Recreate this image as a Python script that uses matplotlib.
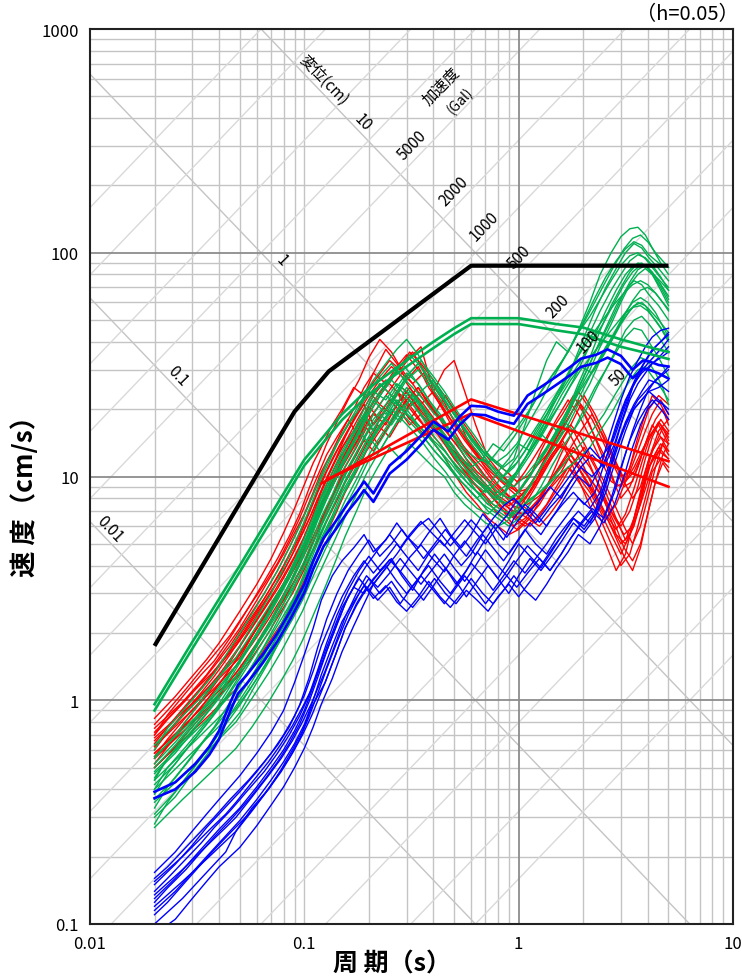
import numpy as np
import matplotlib
matplotlib.use("Agg")
import matplotlib.pyplot as plt

plt.rcParams['font.family'] = ['Noto Sans CJK JP', 'DejaVu Sans']

# ---------------------------------------------------------------- period grids (s)
TA = [0.02, 0.025, 0.03, 0.035, 0.04, 0.05, 0.06, 0.07, 0.08, 0.09,
      0.1, 0.11, 0.12, 0.135, 0.15, 0.17, 0.19, 0.21, 0.24, 0.27,
      0.3, 0.34, 0.38, 0.43, 0.48, 0.54, 0.6, 0.68, 0.76, 0.85,
      0.95, 1.07, 1.2, 1.35, 1.5, 1.7, 1.9, 2.15, 2.4, 2.7,
      3.0, 3.3, 3.6, 3.9, 4.2, 4.6, 5.0]
TB = [0.02, 0.023, 0.028, 0.033, 0.038, 0.045, 0.055, 0.065, 0.075, 0.085,
      0.095, 0.105, 0.115, 0.127, 0.142, 0.16, 0.18, 0.2, 0.225, 0.255,
      0.285, 0.32, 0.36, 0.405, 0.455, 0.51, 0.57, 0.64, 0.72, 0.8,
      0.9, 1.0, 1.13, 1.27, 1.42, 1.6, 1.8, 2.02, 2.27, 2.55,
      2.85, 3.15, 3.45, 3.75, 4.05, 4.5, 5.0]
TC = [0.02, 0.027, 0.032, 0.037, 0.043, 0.048, 0.057, 0.068, 0.078, 0.088,
      0.098, 0.108, 0.125, 0.14, 0.155, 0.175, 0.195, 0.22, 0.25, 0.28,
      0.31, 0.35, 0.4, 0.45, 0.5, 0.56, 0.63, 0.7, 0.78, 0.88,
      0.98, 1.1, 1.25, 1.4, 1.58, 1.75, 1.95, 2.2, 2.5, 2.8,
      3.1, 3.4, 3.7, 4.0, 4.35, 4.7, 5.0]

# ---------------------------------------------------------------- red spectra (cm/s)
red_1 = [0.83,1.04,1.28,1.52,1.8, 2.5,3.3,4.3,5.6,7.2, 9.2,11.5,13.5,17,20, 25,23,29,37,32, 27,31,25,21,18, 16,13.5,12,10.5,9.5, 9,10.5,12.5,15,18, 22,19,15,12,9.5, 9,11,15,19,23, 21,18]
red_2 = [0.78,0.9,1.12,1.36,1.6, 1.95,2.6,3.4,4.3,5.4, 6.8,8.8,11,14,17.5, 22,27,34,41,36, 30,26,29,23,19, 15.5,13,11,9.5,8.2, 7.6,7.2,8.5,10.5,12.5, 14.5,12,9.8,8,6.5, 7.5,9.5,12.5,16,20, 23,21]
red_3 = [0.75,0.98,1.15,1.32,1.55, 1.75,2.2,2.9,3.6,4.5, 5.6,6.8,9.5,12,15, 19,24,28,33,30, 34,38,24,30,33, 24,17,13,11.5,10.5, 9.5,10,11.5,13,15.5, 17,21,18,14,11, 9,9.5,12,15,18, 20,17]
red_4 = [0.72,0.9,1.1,1.3,1.55, 2.1,2.8,3.6,4.5,5.6, 6.8,8.5,10.5,13,16, 20,25,29,26,31, 35,30,26,22,19, 16,14,12,11,10, 9,8,9.5,12,15, 18,22,17,13,10, 8,9,11,14,17, 15,13]
red_5 = [0.7,0.82,1.0,1.2,1.42, 1.75,2.35,3.0,3.8,4.8, 6.0,7.5,9.2,11.5,14, 17,20,24,21,25, 29,26,22,19,23, 19,15,12.5,10.5,9.2, 8.2,7.6,7,8,9.8, 11.5,13.5,11,8.5,6.8, 5.8,6.8,8.8,11.5,14.5, 17.5,15.5]
red_6 = [0.68,0.88,1.03,1.18,1.38, 1.55,1.95,2.55,3.2,3.9, 4.8,5.9,8.0,10,12.5, 15.5,19,23,27,31, 36,32,27,23,20, 17,14.5,12.5,11,9.5, 8.5,8.8,10,12,14.5, 17,15,12,9.5,7.5, 6,5,6,8,11, 14,16]
red_7 = [0.66,0.82,1.01,1.2,1.42, 1.9,2.5,3.2,4.0,5.0, 6.2,7.7,9.5,12,14.5, 18,21,17,20,24, 22,25,21,18,16, 14,12.5,11,9.5,8.5, 7.8,8.5,10,12.5,15, 19,24,20,16,12.5, 10,10.5,13,16,19, 22,19]
red_8 = [0.64,0.76,0.95,1.14,1.35, 1.68,2.25,2.85,3.55,4.4, 5.4,6.8,8.4,10.5,13, 16,19.5,23,27,31, 28,24,21,18,16, 14,12,10.5,9.5,8.5, 8,7.5,8.5,10,12, 14,11,8.5,6.5,5, 3.8,4.5,6.5,9,12, 16,18]
red_9 = [0.62,0.82,0.96,1.1,1.28, 1.42,1.78,2.3,2.85,3.5, 4.3,5.2,7.0,8.8,11, 13.5,16.5,14,17,21, 18,21,24,20,17, 14.5,12.5,11,10,9, 8.2,7.5,8.2,9.5,11.5, 13.5,16,19,15,12, 9.5,8,9,11.5,14, 16.5,14.5]
red_10 = [0.62,0.78,0.95,1.12,1.3, 1.75,2.3,2.9,3.6,4.4, 5.4,6.8,8.5,11,13.5, 16,19,23,27,24, 20,22,18,15,13, 11,10,9,8,7.2, 6.6,7.5,9,11,13, 16,13,11,9,7, 6,7,9,12,15, 18,16]
red_11 = [0.6,0.72,0.9,1.08,1.28, 1.6,2.15,2.75,3.4,4.2, 5.2,6.4,7.9,9.8,12.2, 15,18.5,22,26,23, 20,17.5,15.5,17.5,15, 13,11.5,10.2,9,8, 7.2,6.5,6,6.8,8, 9.5,11.5,13.5,11,8.5, 6.5,5.2,6.5,8.5,11, 13.5,12]
red_12 = [0.58,0.76,0.89,1.02,1.18, 1.32,1.65,2.15,2.7,3.3, 4.0,4.9,6.6,8.2,10.2, 12.5,15.5,18.5,22,19.5, 17,19,16.5,14,12, 10.5,9.2,8,7,6.3, 5.8,6.5,7.5,9,10.5, 12.5,10.5,8.8,7,5.5, 4.4,3.8,4.8,6.8,9.5, 12.5,14]
red_13 = [0.58,0.7,0.88,1.05,1.25, 1.55,2.1,2.7,3.3,4.1, 5.0,6.2,7.6,9.5,12, 15,18,16,20,24, 21,18,16,14,12, 10.5,9.5,8.5,7.5,7, 6.5,6,6.5,7.5,9, 11,10,8.5,7,5.5, 4.5,5.5,7.5,10,13, 15,14]
red_14 = [0.56,0.67,0.84,1.0,1.2, 1.48,2.0,2.55,3.15,3.9, 4.8,6.0,7.4,9.2,11.5, 14,17,20.5,18,21.5, 25,22,19,16.5,14.5, 12.5,11,9.8,8.8,8, 7.4,8,9.2,11,13.5, 16.5,20,23,19,15, 11.5,9.5,10.5,12.5,15, 17.5,15]
red_15 = [0.55,0.72,0.84,0.97,1.12, 1.25,1.55,2.0,2.5,3.0, 3.7,4.5,6.1,7.6,9.4, 11.5,14,17,15,18, 21,24,20,17.5,15, 13,11.5,10,9,8, 7,6.5,6,6.8,8, 9.5,11,9.5,8,6.5, 5.5,6,7.5,9.5,12, 14,12.5]
red_16 = [0.55,0.68,0.84,1.0,1.18, 1.6,2.1,2.6,3.2,3.9, 4.7,5.8,7.2,9,11, 13.5,16,19,17,21, 24,20,17,15,13.5, 12,10.5,9,8,7, 6,6.5,7.5,9,10.5, 12,11,9,7.5,6, 5,5.5,7,9.5,12, 14,13]
red_17 = [0.52,0.62,0.78,0.93,1.1, 1.38,1.85,2.35,2.9,3.5, 4.3,5.3,6.5,8,10, 12.5,15,18,21,19, 23,20,17,14,12, 10,8.5,7.5,6.5,6, 5.5,5.8,6.5,8,10, 13,16,13,10,7.5, 5.5,5,6,8,11, 13,12]
red_18 = [0.5,0.66,0.77,0.88,1.02, 1.12,1.4,1.8,2.2,2.7, 3.3,4.0,5.4,6.8,8.5, 10.5,13,15.5,18.5,22, 25,21,18,15.5,13.5, 11.5,10,8.8,7.8,7, 6.5,7,8,9.5,11, 12.5,11,9.5,7.8,6.2, 4.8,4.2,5,6.8,9.5, 11.5,10.5]
red_19 = [0.5,0.62,0.76,0.9,1.05, 1.4,1.8,2.3,2.8,3.4, 4.1,5.1,6.3,8,10, 12,14.5,13,16,19, 22,25,21,18,15, 13,11,9.5,8.5,7.5, 7,6.8,7.5,8.5,9.5, 11,9.5,8,6.5,5, 4,4.5,6,8,10.5, 12,11]
red_20 = [0.7,0.86,1.08,1.3,1.5, 1.9,2.6,3.3,4.1,5.2, 6.5,8.2,10,12.5,15, 18,15,19,23,27, 32,36,30,25,21, 17,14.5,12.5,11,10, 9,8.5,10,13,16, 19,23,19,15,12, 9,9.5,11,13,15, 17,14]

# ---------------------------------------------------------------- green spectra (cm/s)
green_1 = [0.5,0.63,0.78,0.95,1.12, 1.5,2.0,2.6,3.3,4.2, 5.3,6.6,8.2,10.5,13, 16,20,24,22,26, 24,21,18,16,14, 12,11,12,14,13, 15,18,22,26,30, 36,45,60,80,100, 118,128,130,120,105, 90,80]
green_2 = [0.45,0.55,0.7,0.85,1.0, 1.25,1.7,2.2,2.8,3.5, 4.4,5.5,6.8,8.5,11, 14,17,21,26,23, 20,18,15,13,11.5, 10,9,8,9,10.5, 12,14,13,16,20, 25,32,42,55,70, 85,100,110,105,95, 85,75]
green_3 = [0.63,0.85,1.0,1.17,1.38, 1.55,2.0,2.6,3.2,3.9, 4.8,5.8,7.8,9.8,12, 15,18.5,22,27,31, 35,31,26,22,19, 16,14,12.5,11.5,12.5, 14,17,21,26,32, 38,46,57,72,88, 104,116,120,112,100, 92,86]
green_4 = [0.42,0.52,0.65,0.78,0.92, 1.25,1.65,2.1,2.7,3.4, 4.2,5.3,6.6,8.3,10.5, 13,16,19,23,21, 25,22,19,16,13.5, 11.5,10,9,8,8.5, 10,12,15,18,16, 20,26,34,45,58, 70,82,90,88,80, 70,60]
green_5 = [0.38,0.47,0.6,0.73,0.87, 1.1,1.5,2.0,2.6,3.3, 4.2,5.3,6.6,8.2,10.5, 13,16,14,17,20, 18,16,14,12,10.5, 9,8,7.2,6.8,7.5, 9,11,13,15.5,14, 17,22,28,36,46, 58,68,75,72,65, 58,50]
green_6 = [0.56,0.74,0.86,0.99,1.15, 1.28,1.62,2.1,2.6,3.15, 3.8,4.6,6.2,7.8,9.6, 12,14.5,17.5,21,25, 29,33,28,24,20.5, 17.5,15,13,11.5,10.5, 11.5,13.5,16.5,20,24, 28,33,40,49,60, 72,82,88,86,78, 70,64]
green_7 = [0.36,0.45,0.56,0.68,0.8, 1.05,1.4,1.8,2.3,2.9, 3.7,4.7,6.0,7.6,9.5, 12,15,18,21,25, 29,26,22,19,16, 13,11,9.5,8.5,7.5, 8,9.5,11,13,15.5, 19,24,30,38,48, 60,72,80,85,80, 68,58]
green_8 = [0.33,0.41,0.52,0.64,0.76, 0.98,1.35,1.75,2.25,2.85, 3.6,4.5,5.6,7.0,8.8, 11,13.5,16,19,17, 20,23,20,17,14, 12,10,8.5,7.5,7, 6.5,7.5,9,11,13, 16,20,25,31,38, 45,52,58,60,56, 50,44]
green_9 = [0.48,0.64,0.75,0.86,1.0, 1.12,1.42,1.85,2.3,2.8, 3.4,4.1,5.6,7.0,8.7, 10.8,13.2,16,19.5,17.5, 20.5,24,27,23,19.5, 16.5,14,12,10.5,9.5, 10.5,12.5,15,18.5,23, 27,31,29,35,43, 52,61,68,70,66, 60,55]
green_10 = [0.31,0.39,0.49,0.6,0.71, 0.95,1.25,1.6,2.05,2.6, 3.3,4.2,5.3,6.7,8.5, 10.5,13,15.5,18.5,22, 20,17,15,13,11, 9.5,8.5,7.5,7,6.5, 7,8.5,10,12,14, 17,21,26,33,40, 48,55,60,58,52, 46,40]
green_11 = [0.28,0.35,0.45,0.55,0.66, 0.86,1.15,1.5,1.95,2.5, 3.2,4.0,5.0,6.3,8.0, 10,12.5,15,13,16, 19,17,15,13,11.5, 10,9,8,7,6.5, 6,6.5,7.5,9,11, 13.5,16,20,25,30, 36,42,46,45,40, 34,28]
green_12 = [0.44,0.58,0.68,0.78,0.9, 1.0,1.28,1.65,2.05,2.5, 3.0,3.7,5.0,6.3,7.8, 9.7,12,14.5,17.5,21, 24,21,18,15.5,13.5, 11.5,10,8.8,8,7.6, 8.4,9.8,11.8,14.2,17, 20.5,24.5,29.5,36,44, 53,60,63,60,54, 47,42]
green_13 = [0.55,0.7,0.88,1.07,1.27, 1.75,2.35,3.0,3.9,5.0, 6.3,7.9,9.8,12.5,15.5, 19,23,27,32,37, 41,35,29,24,20, 17,14.5,12.5,11,10, 11,13,16,19,23, 28,35,44,55,68, 80,92,98,95,88, 78,68]
green_14 = [0.6,0.75,0.93,1.12,1.32, 1.7,2.3,3.0,3.8,4.8, 6.0,7.5,9.3,11.5,14, 17,20,24,28,32, 28,25,22,19,17, 15,13,12,11.5,13, 15,17,20,24,28, 33,40,50,63,78, 92,104,112,108,98, 90,86]
green_15 = [0.4,0.53,0.62,0.71,0.82, 0.92,1.16,1.5,1.88,2.3, 2.8,3.45,4.7,5.9,7.3, 9.1,11.3,13.8,16.8,20.5, 18.5,16.5,14.5,13,11.5, 10.2,9.2,8.5,9.2,10.5, 12.2,14.5,17.5,21,25.5, 30.5,36,43,51,59, 66,72,75,72,66, 60,56]
green_16 = [0.47,0.58,0.72,0.87,1.02, 1.35,1.8,2.3,2.95,3.7, 4.6,5.8,7.2,9,11.5, 14.5,18,22,19,23, 27,30,26,22,19, 16,14,12,10.5,9.5, 9,10,11.5,13.5,16, 20,25,32,40,50, 62,74,84,88,82, 72,62]
green_17 = [0.4,0.5,0.62,0.75,0.89, 1.15,1.55,2.0,2.55,3.2, 4.0,5.0,6.3,7.9,10, 12.5,15.5,19,23,27, 24,21,18,15,13, 11,9.5,8.5,7.5,8, 9,10.5,12.5,15,18, 22,27,34,43,55, 68,80,88,90,84, 76,68]
green_18 = [0.27,0.36,0.42,0.48,0.55, 0.61,0.76,0.98,1.22,1.5, 1.85,2.3,3.2,4.2,5.4, 7.0,8.9,11,13.5,12, 14,12.5,11,10,8.5, 7.5,6.8,6.2,5.9,6.3, 7,7.8,8.5,9.5,11, 12.5,14,16,19,23, 27,31,34,33,29, 25,21]
green_19 = [0.52,0.65,0.8,0.97,1.15, 1.5,2.0,2.6,3.3,4.1, 5.1,6.4,8.0,10,12.5, 15.5,19,16,20,24, 28,32,27,23,20, 17,15,13,12,11, 12,17,24,33,40, 36,44,52,62,75, 88,97,100,94,86, 77,70]
green_20 = [0.44,0.55,0.68,0.82,0.97, 1.3,1.75,2.25,2.85,3.6, 4.5,5.6,7.0,8.8,11, 14,17,20,24,28, 32,28,24,20,17, 14.5,12.5,11,9.5,8.5, 8,8.5,10,12,14.5, 18,16,19,24,30, 37,45,50,52,48, 42,36]
green_21 = [0.35,0.46,0.54,0.62,0.72, 0.8,1.02,1.32,1.65,2.05, 2.5,3.1,4.2,5.3,6.6, 8.3,10.3,12.6,15.4,18.5, 22,19,16.5,14.5,12.5, 11,9.8,9,8.4,9.2, 10.5,12.5,15,18,21.5, 25.5,30,35,41,47, 53,57,58,55,50, 45,41]
green_22 = [0.3,0.37,0.47,0.57,0.68, 0.88,1.2,1.55,2.0,2.55, 3.2,4.1,5.1,6.4,8.1, 10,12.5,15,18,21, 19,17,15,13,11.5, 10,9,8.2,7.5,7, 6.8,7.5,8.2,9,10, 11,12,13.5,16,19, 23,27,30,31,28, 25,22]

# ---------------------------------------------------------------- blue spectra (cm/s)
blue_1 = [0.17,0.21,0.26,0.31,0.36, 0.46,0.58,0.72,0.9,1.2, 1.6,2.1,2.8,3.6,4.2, 4.8,5.5,4.6,5.2,6.2, 5.4,4.8,5.6,6.5,5.5, 4.8,5.5,6.8,6,5.2, 6.5,7.5,6.8,6,7, 8.5,10,9,11,16, 22,28,33,38,42, 45,46]
blue_2 = [0.16,0.18,0.22,0.26,0.3, 0.36,0.44,0.53,0.63,0.76, 0.95,1.25,1.7,2.3,3.0, 3.8,4.5,5.2,4.4,5.0, 5.8,5.0,4.3,5.0,5.8, 5.0,4.4,5.2,6.0,5.0, 4.5,5.2,6.2,5.5,6.5, 7.5,8.5,7.5,8.5,12, 17,22,26,29,31, 34,38]
blue_3 = [0.155,0.2,0.235,0.27,0.31, 0.35,0.43,0.53,0.64,0.77, 0.93,1.12,1.6,2.1,2.7, 3.4,4.0,4.7,5.5,4.8, 5.5,6.3,5.5,4.9,5.6, 6.4,5.6,5.0,5.8,6.7, 7.8,6.8,7.8,9,8, 9.5,11,12.5,11,14, 19,25,30,34,38, 41,44]
blue_4 = [0.15,0.185,0.225,0.27,0.31, 0.39,0.48,0.58,0.7,0.85, 1.05,1.35,1.75,2.3,2.9, 3.6,4.2,3.7,4.3,5.0, 4.4,3.8,4.5,5.2,4.6, 4.0,4.5,5.5,4.8,4.2, 4.9,5.8,5.0,4.5,5.3, 6.2,7,6.2,7.5,11, 15,19,22,24,26, 28,30]
blue_5 = [0.14,0.16,0.195,0.23,0.27, 0.32,0.4,0.48,0.58,0.7, 0.85,1.05,1.35,1.8,2.4, 3.1,3.8,4.4,3.8,4.3, 3.6,3.1,3.8,4.5,3.9, 3.3,3.8,4.6,4.0,3.5, 4.2,5.0,4.4,3.9,4.6, 5.5,6.5,5.8,6.8,9.5, 13.5,17,20,22,24, 25,27]
blue_6 = [0.135,0.175,0.205,0.235,0.27, 0.3,0.37,0.46,0.55,0.66, 0.8,0.97,1.35,1.8,2.35, 3.0,3.6,3.2,3.7,4.3, 3.8,3.3,3.9,4.5,3.9, 3.4,4.0,4.7,4.1,3.6, 4.2,4.9,4.3,3.8,4.5, 5.3,6.2,7.2,6.5,8.5, 12,16,20,24,27, 29,31]
blue_7 = [0.13,0.16,0.195,0.23,0.265, 0.33,0.41,0.5,0.6,0.73, 0.9,1.15,1.5,2.0,2.6, 3.2,3.0,3.5,4.0,3.4, 3.0,3.5,4.0,3.4,3.0, 3.5,4.1,3.6,3.1,3.6, 4.2,3.7,4.3,5.0,5.8, 6.8,8,7.2,8.5,12, 17,22,26,29,32, 34,36]
blue_8 = [0.125,0.145,0.175,0.21,0.245, 0.29,0.36,0.44,0.53,0.64, 0.78,0.98,1.25,1.65,2.2, 2.9,3.5,3.1,3.6,4.2, 3.7,3.2,2.8,3.3,3.9, 3.4,2.9,3.4,4.0,3.5, 3.0,3.6,4.3,3.8,4.4, 5.2,6.2,5.6,6.5,8.5, 12,16,20,22,24, 22,20]
blue_9 = [0.12,0.155,0.18,0.205,0.235, 0.26,0.32,0.4,0.48,0.58, 0.7,0.85,1.2,1.6,2.1, 2.7,3.2,2.8,3.2,2.7, 3.1,3.6,3.1,2.7,3.1, 3.6,3.1,2.7,3.1,3.6, 3.2,3.7,4.3,3.8,4.5, 5.3,6.1,7,6.2,7.5, 10,13.5,17,20,22, 21,19]
blue_10 = [0.115,0.14,0.17,0.2,0.23, 0.29,0.36,0.44,0.53,0.64, 0.78,1.0,1.3,1.75,2.25, 2.75,3.25,2.85,3.25,2.75, 2.5,2.9,3.4,2.9,2.6, 3.0,3.5,3.0,2.7,3.1, 3.6,3.1,2.8,3.3,3.9, 4.6,5.5,5,6,8, 11,14.5,17.5,20,22, 20,18]
blue_11 = [0.11,0.125,0.155,0.185,0.215, 0.255,0.31,0.38,0.46,0.55, 0.67,0.84,1.06,1.38,1.82, 2.4,3.0,3.5,3.0,3.4, 2.9,2.6,3.0,3.5,3.0, 2.7,3.1,2.8,2.5,2.9, 3.3,2.9,3.4,4.0,4.7, 5.5,6.5,6,7,9.5, 13.5,17.5,21,24,27, 26,24]
blue_12 = [0.1,0.13,0.155,0.18,0.21, 0.26,0.33,0.4,0.49,0.6, 0.73,0.93,1.2,1.6,2.1, 2.65,3.15,3.65,4.25,3.75, 4.35,4.95,4.25,3.75,4.45, 5.15,4.45,5.25,6.15,5.35, 6.25,7.15,6.25,7.25,8.25, 9.5,11,10,11.5,15, 20,25,29,32,35, 38,41]
blue_13 = [0.09,0.105,0.13,0.155,0.18, 0.22,0.275,0.34,0.41,0.5, 0.61,0.76,0.96,1.25,1.65, 2.15,2.7,3.3,3.9,4.5, 5.2,6.0,6.5,5.6,4.9, 5.6,6.4,5.6,6.5,7.4, 8.0,7.0,6.2,7.2,8.3, 9.8,11.5,13.5,12,14, 19,24,29,33,37, 40,43]

# ---------------------------------------------------------------- envelope / mean lines
T_black = [0.02, 0.09, 0.13, 0.6, 5.0]
v_black = [1.75, 19.5, 29.5, 87.5, 87.5]

T_green_env = [0.02, 0.03, 0.05, 0.07, 0.1, 0.15, 0.2, 0.3, 0.4, 0.5, 0.6, 1.0, 1.5, 2.0, 3.0, 4.0, 5.0]
v_green_env_1 = [0.96, 1.82, 4.0, 6.8, 11.9, 19.0, 24.8, 33.0, 40.0, 46.0, 51.0, 51.0, 48.0, 46.3, 41.0, 38.0, 36.0]
v_green_env_2 = [0.9, 1.7, 3.75, 6.35, 11.2, 17.9, 23.3, 31.0, 37.5, 43.3, 48.0, 48.0, 45.0, 43.2, 38.0, 35.5, 33.5]

T_red_env_1 = [0.12, 0.6, 5.0]
v_red_env_1 = [9.3, 22.1, 11.7]
T_red_env_2 = [0.13, 0.6, 5.0]
v_red_env_2 = [9.8, 19.1, 9.0]

T_blue_mean = [0.02, 0.025, 0.031, 0.036, 0.04, 0.045, 0.049, 0.054, 0.064, 0.075,
               0.086, 0.1, 0.11, 0.123, 0.14, 0.16, 0.177, 0.19, 0.21, 0.25,
               0.3, 0.35, 0.4, 0.47, 0.53, 0.6, 0.7, 0.8, 0.95, 1.1,
               1.3, 1.5, 1.75, 1.95, 2.3, 2.6, 3.0, 3.4, 3.8, 4.1,
               4.5, 5.0]
v_blue_mean_1 = [0.39, 0.43, 0.52, 0.62, 0.73, 0.97, 1.17, 1.3, 1.6, 2.0,
                 2.5, 3.3, 4.2, 5.3, 6.3, 7.6, 8.6, 9.5, 8.4, 11.2,
                 13.0, 15.2, 17.6, 15.9, 18.5, 20.7, 20.5, 19.5, 18.7, 23.0,
                 25.5, 28.0, 31.0, 33.6, 35.0, 37.0, 34.6, 30.0, 33.0, 32.6,
                 31.5, 31.0]
v_blue_mean_2 = [0.365, 0.4, 0.48, 0.57, 0.67, 0.89, 1.07, 1.19, 1.47, 1.84,
                 2.3, 3.03, 3.86, 4.88, 5.8, 7.0, 7.9, 8.7, 7.7, 10.3,
                 11.9, 13.9, 16.2, 14.6, 17.0, 19.0, 18.8, 17.9, 17.2, 21.1,
                 23.4, 25.7, 28.5, 30.9, 32.2, 34.0, 31.8, 27.5, 30.3, 29.9,
                 28.9, 27.4]

# ---------------------------------------------------------------- tripartite grid values
disp_levels = [0.01, 0.1, 1, 10]                       # cm
acc_levels = [1, 2, 5, 10, 20, 50, 100, 200, 500, 1000, 2000, 5000,
              10000, 20000, 50000, 100000]            # Gal
acc_labels = [5000, 2000, 1000, 500, 200, 100, 50]
acc_label_T = [0.32, 0.497, 0.694, 1.01, 1.52, 2.12, 2.93]
disp_label_T = [0.0124, 0.0256, 0.0782, 0.188]

x_ticks = [0.01, 0.1, 1, 10]
x_tick_labels = ['0.01', '0.1', '1', '10']
y_ticks = [0.1, 1, 10, 100, 1000]
y_tick_labels = ['0.1', '1', '10', '100', '1000']

RED = '#ff0000'
GREEN = '#00b050'
BLUE = '#0000ff'

fig = plt.figure(figsize=(7.42, 9.78), dpi=100)
ax = fig.add_axes([90 / 742, 1 - 925 / 978, 643 / 742, 895 / 978])
ax.set_xscale('log')
ax.set_yscale('log')
ax.set_xlim(0.01, 10)
ax.set_ylim(0.1, 1000)

# rectangular log grid
for dec in [0.01, 0.1, 1]:
    for m in range(2, 10):
        ax.axvline(dec * m, color='#c4c4c4', lw=1.0, zorder=0)
for dec in [0.1, 1, 10, 100]:
    for m in range(2, 10):
        ax.axhline(dec * m, color='#c4c4c4', lw=1.0, zorder=0)
ax.axvline(0.1, color='#c4c4c4', lw=1.0, zorder=0)
ax.axvline(1, color='#8c8c8c', lw=1.3, zorder=0.2)
for yv in [1, 10, 100]:
    ax.axhline(yv, color='#8c8c8c', lw=1.3, zorder=0.2)

# diagonal displacement / acceleration lines
Tline = np.array([0.001, 100.0])
for d in disp_levels:
    ax.plot(Tline, 2 * np.pi * d / Tline, color='#c4c4c4', lw=1.0, zorder=0.1)
for a in acc_levels:
    ax.plot(Tline, a * Tline / (2 * np.pi), color='#d9d9d9', lw=1.0, zorder=0.1)

for d, t in zip(disp_levels, disp_label_T):
    ax.text(t, 2 * np.pi * d / t * 1.15, f'{d:g}', rotation=-46, fontsize=11,
            ha='center', va='center', zorder=5)
for a, t in zip(acc_labels, acc_label_T):
    ax.text(t, a * t / (2 * np.pi) * 1.2, f'{a:d}', rotation=46, fontsize=11,
            ha='center', va='center', zorder=5)
ax.text(0.1227, 597, '変位(cm)', rotation=-46, fontsize=11, ha='center', va='center', zorder=5)
ax.text(0.437, 557, '加速度', rotation=46, fontsize=11, ha='center', va='center', zorder=5)
ax.text(0.536, 482, '(Gal)', rotation=46, fontsize=10, ha='center', va='center', zorder=5)

# thin spectra
lw_thin = 1.0
grids = [TA, TB, TC]
reds = [red_1, red_2, red_3, red_4, red_5, red_6, red_7, red_8, red_9, red_10,
        red_11, red_12, red_13, red_14, red_15, red_16, red_17, red_18, red_19, red_20]
greens = [green_1, green_2, green_3, green_4, green_5, green_6, green_7, green_8, green_9,
          green_10, green_11, green_12, green_13, green_14, green_15, green_16, green_17,
          green_18, green_19, green_20, green_21, green_22]
blues = [blue_1, blue_2, blue_3, blue_4, blue_5, blue_6, blue_7, blue_8, blue_9, blue_10,
         blue_11, blue_12, blue_13]
for k, v in enumerate(reds):
    ax.plot(grids[k % 3], v, color=RED, lw=lw_thin, zorder=2)
for k, v in enumerate(greens):
    ax.plot(grids[k % 3], v, color=GREEN, lw=lw_thin, zorder=2)
for k, v in enumerate(blues):
    ax.plot(grids[k % 3], v, color=BLUE, lw=lw_thin, zorder=2)

# thick envelope / mean lines (drawn as thin-gapped pairs)
lw_pair = 1.9
ax.plot(T_green_env, v_green_env_1, color=GREEN, lw=lw_pair, zorder=3)
ax.plot(T_green_env, v_green_env_2, color=GREEN, lw=lw_pair, zorder=3)
ax.plot(T_red_env_1, v_red_env_1, color=RED, lw=lw_pair, zorder=3)
ax.plot(T_red_env_2, v_red_env_2, color=RED, lw=lw_pair, zorder=3)
ax.plot(T_blue_mean, v_blue_mean_1, color=BLUE, lw=lw_pair, zorder=3)
ax.plot(T_blue_mean, v_blue_mean_2, color=BLUE, lw=lw_pair, zorder=3)
ax.plot(T_black, v_black, color='black', lw=3.0, zorder=4, solid_capstyle='butt')

# axes cosmetics
ax.set_xticks(x_ticks)
ax.set_xticklabels(x_tick_labels, fontsize=12)
ax.set_yticks(y_ticks)
ax.set_yticklabels(y_tick_labels, fontsize=12)
ax.minorticks_off()
ax.tick_params(length=0, pad=8)
for s in ax.spines.values():
    s.set_linewidth(1.5)
    s.set_color('#222222')

fig.text(392 / 742, 1 - 965 / 978, '周 期（s）', fontsize=18, fontweight='bold',
         ha='center', va='center')
fig.text(25 / 742, 1 - 490 / 978, '速 度（cm/s）', fontsize=19, fontweight='bold',
         rotation=90, ha='center', va='center')
fig.text(739 / 742, 1 - 15 / 978, '（h=0.05）', fontsize=14.5, ha='right', va='center')

fig.savefig('out.png', dpi=100)
